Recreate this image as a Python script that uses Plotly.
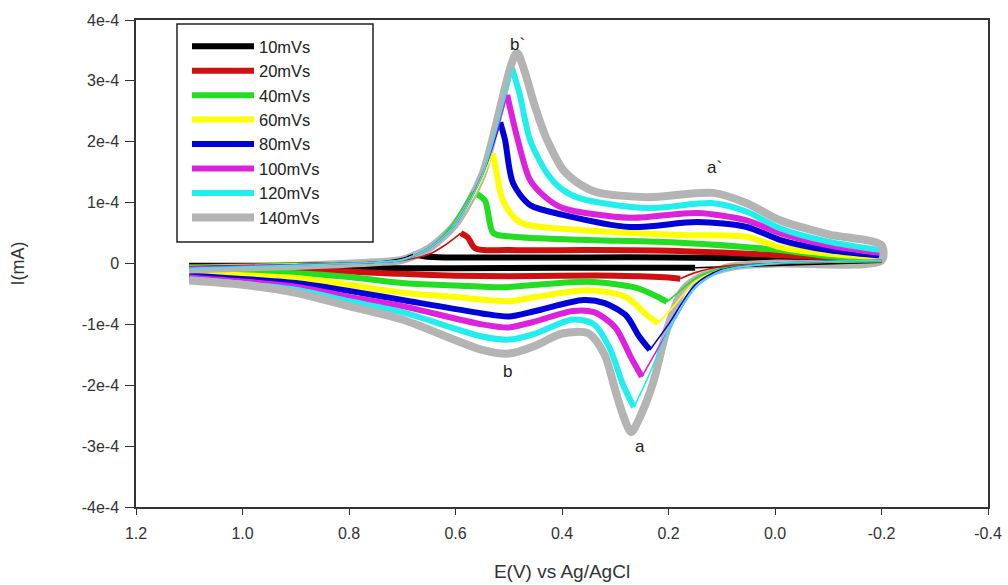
import plotly.graph_objects as go

# ---------------- data (I in units of 1e-4 mA, E in V) ----------------
labels = ["10mVs", "20mVs", "40mVs", "60mVs", "80mVs", "100mVs", "120mVs", "140mVs"]
colors = ["#000000", "#d01010", "#22dd22", "#ffff00", "#0000d8", "#dd22dd", "#22eeee", "#b4b4b4"]

# upper (anodic) branches, from E=1.1 down to E=-0.2
E_up_10 = [1.1, 0.9, 0.75, 0.70, 0.68, 0.66, 0.62, 0.5, 0.35, 0.2, 0.1, 0.0, -0.1, -0.2]
I_up_10 = [0.0, 0.0, 0.02, 0.08, 0.15, 0.12, 0.10, 0.10, 0.10, 0.10, 0.09, 0.09, 0.08, 0.08]
E_up_20 = [1.1, 0.9, 0.75, 0.70, 0.65, 0.62, 0.59, 0.577, 0.563, 0.5, 0.35, 0.2, 0.1, 0.0, -0.1, -0.2]
I_up_20 = [-0.02, 0.0, 0.02, 0.05, 0.15, 0.3, 0.5, 0.43, 0.25, 0.22, 0.22, 0.21, 0.18, 0.14, 0.1, 0.08]
E_up_40 = [1.1, 0.9, 0.75, 0.70, 0.65, 0.61, 0.569, 0.545, 0.529, 0.492, 0.366, 0.178, -0.009, -0.1, -0.2]
I_up_40 = [-0.03, 0.0, 0.02, 0.06, 0.25, 0.6, 1.18, 1.04, 0.5, 0.44, 0.39, 0.34, 0.22, 0.12, 0.08]
E_up_60 = [1.1, 0.9, 0.75, 0.70, 0.65, 0.6, 0.56, 0.53, 0.526, 0.511, 0.479, 0.366, 0.178, 0.053, -0.009, -0.1, -0.2]
I_up_60 = [-0.04, -0.01, 0.02, 0.06, 0.25, 0.65, 1.2, 1.81, 1.65, 1.04, 0.68, 0.55, 0.47, 0.44, 0.27, 0.16, 0.1]
E_up_80 = [1.1, 0.9, 0.75, 0.70, 0.65, 0.6, 0.55, 0.516, 0.507, 0.492, 0.46, 0.398, 0.272, 0.146, 0.053, -0.009, -0.1, -0.2]
I_up_80 = [-0.05, -0.02, 0.02, 0.06, 0.25, 0.65, 1.45, 2.32, 2.03, 1.32, 0.96, 0.8, 0.6, 0.68, 0.6, 0.39, 0.22, 0.13]
E_up_100 = [1.1, 0.9, 0.75, 0.70, 0.65, 0.6, 0.55, 0.503, 0.483, 0.46, 0.43, 0.398, 0.272, 0.146, 0.053, -0.009, -0.1, -0.2]
I_up_100 = [-0.06, -0.02, 0.02, 0.06, 0.25, 0.65, 1.45, 2.77, 2.03, 1.37, 1.08, 0.91, 0.75, 0.83, 0.71, 0.5, 0.3, 0.17]
E_up_120 = [1.1, 0.9, 0.75, 0.70, 0.65, 0.6, 0.55, 0.494, 0.48, 0.46, 0.428, 0.4, 0.366, 0.24, 0.116, 0.053, -0.009, -0.1, -0.2]
I_up_120 = [-0.08, -0.03, 0.02, 0.06, 0.25, 0.65, 1.45, 3.21, 2.8, 2.03, 1.48, 1.22, 1.07, 0.91, 0.99, 0.85, 0.58, 0.36, 0.22]
E_up_140 = [1.1, 0.9, 0.75, 0.70, 0.65, 0.6, 0.55, 0.485, 0.47, 0.455, 0.44, 0.428, 0.398, 0.366, 0.334, 0.24, 0.116, 0.053, -0.009, -0.1, -0.2]
I_up_140 = [-0.1, -0.04, 0.02, 0.06, 0.25, 0.65, 1.45, 3.46, 3.15, 2.7, 2.3, 2.03, 1.54, 1.3, 1.17, 1.09, 1.16, 0.99, 0.71, 0.48, 0.3]

# lower (cathodic) branches, from E=-0.2 up to E=1.1
E_dn_10 = [-0.2, 0.0, 0.15, 0.2, 0.4, 0.6, 0.8, 1.0, 1.1]
I_dn_10 = [0.02, -0.03, -0.07, -0.07, -0.07, -0.08, -0.07, -0.05, -0.05]
E_dn_20 = [-0.2, 0.0, 0.1, 0.15, 0.178, 0.2, 0.3, 0.4, 0.5, 0.6, 0.7, 0.9, 1.1]
I_dn_20 = [0.03, 0.0, -0.05, -0.15, -0.25, -0.23, -0.2, -0.2, -0.21, -0.2, -0.17, -0.1, -0.08]
E_dn_40 = [-0.2, 0.0, 0.1, 0.15, 0.185, 0.203, 0.22, 0.26, 0.35, 0.45, 0.51, 0.6, 0.7, 0.8, 0.9, 1.1]
I_dn_40 = [0.03, 0.0, -0.08, -0.25, -0.5, -0.63, -0.55, -0.4, -0.3, -0.35, -0.39, -0.36, -0.32, -0.22, -0.16, -0.12]
E_dn_60 = [-0.2, 0.0, 0.1, 0.15, 0.19, 0.22, 0.24, 0.28, 0.35, 0.45, 0.5, 0.6, 0.7, 0.8, 0.9, 1.1]
I_dn_60 = [0.04, 0.0, -0.1, -0.3, -0.7, -0.98, -0.85, -0.55, -0.44, -0.55, -0.62, -0.55, -0.48, -0.35, -0.24, -0.16]
E_dn_80 = [-0.2, 0.0, 0.1, 0.15, 0.2, 0.235, 0.255, 0.28, 0.32, 0.36, 0.45, 0.5, 0.55, 0.7, 0.8, 0.9, 1.1]
I_dn_80 = [0.05, 0.0, -0.1, -0.35, -1.0, -1.42, -1.2, -0.85, -0.65, -0.6, -0.78, -0.87, -0.82, -0.6, -0.45, -0.32, -0.2]
E_dn_100 = [-0.2, 0.0, 0.1, 0.15, 0.2, 0.25, 0.27, 0.3, 0.34, 0.38, 0.45, 0.5, 0.55, 0.7, 0.8, 0.9, 1.1]
I_dn_100 = [0.05, 0.0, -0.12, -0.4, -1.1, -1.86, -1.55, -1.05, -0.8, -0.78, -0.95, -1.05, -1.0, -0.7, -0.55, -0.38, -0.23]
E_dn_120 = [-0.2, 0.0, 0.1, 0.15, 0.2, 0.24, 0.265, 0.285, 0.31, 0.34, 0.38, 0.45, 0.5, 0.55, 0.7, 0.8, 0.9, 1.1]
I_dn_120 = [0.05, 0.0, -0.12, -0.4, -1.1, -1.9, -2.36, -2.0, -1.4, -1.0, -0.92, -1.15, -1.25, -1.2, -0.8, -0.62, -0.43, -0.26]
E_dn_140 = [-0.2, 0.0, 0.08, 0.14, 0.173, 0.203, 0.229, 0.255, 0.27, 0.285, 0.3, 0.32, 0.35, 0.4, 0.45, 0.5, 0.55, 0.7, 0.8, 0.9, 1.0, 1.1]
I_dn_140 = [0.05, 0.0, -0.05, -0.22, -0.44, -1.09, -1.96, -2.55, -2.77, -2.5, -2.08, -1.5, -1.15, -1.15, -1.35, -1.48, -1.42, -0.92, -0.7, -0.48, -0.35, -0.28]

E_up = [E_up_10, E_up_20, E_up_40, E_up_60, E_up_80, E_up_100, E_up_120, E_up_140]
I_up = [I_up_10, I_up_20, I_up_40, I_up_60, I_up_80, I_up_100, I_up_120, I_up_140]
E_dn = [E_dn_10, E_dn_20, E_dn_40, E_dn_60, E_dn_80, E_dn_100, E_dn_120, E_dn_140]
I_dn = [I_dn_10, I_dn_20, I_dn_40, I_dn_60, I_dn_80, I_dn_100, I_dn_120, I_dn_140]

x_ticks = [1.2, 1.0, 0.8, 0.6, 0.4, 0.2, 0.0, -0.2, -0.4]
x_ticktext = ["1.2", "1.0", "0.8", "0.6", "0.4", "0.2", "0.0", "-0.2", "-0.4"]
y_ticks = [4e-4, 3e-4, 2e-4, 1e-4, 0, -1e-4, -2e-4, -3e-4, -4e-4]
y_ticktext = ["4e-4", "3e-4", "2e-4", "1e-4", "0", "-1e-4", "-2e-4", "-3e-4", "-4e-4"]

peak_labels = ["b`", "a`", "b", "a"]
peak_label_E = [0.483, 0.113, 0.503, 0.254]
peak_label_I = [3.59e-4, 1.57e-4, -1.78e-4, -3.01e-4]

SCALE = 1e-4
FONT = "Liberation Sans, Arial, sans-serif"
THICK, THICK_GRAY, THIN = 6, 8, 1.6

fig = go.Figure()
thin_parts = []
for k in range(len(labels)):
    eu, iu = E_up[k], [v * SCALE for v in I_up[k]]
    ed, idn = E_dn[k], [v * SCALE for v in I_dn[k]]
    if k == len(labels) - 1:
        # outermost (140 mV/s) loop: one continuous thick line
        fig.add_trace(go.Scatter(
            x=eu + ed, y=iu + idn, mode="lines", name=labels[k], legendgroup=labels[k],
            line=dict(color=colors[k], width=THICK_GRAY, shape="spline", smoothing=0.8)))
        continue
    p_up = max(range(len(iu)), key=lambda j: iu[j])            # anodic peak index
    cand = [j for j in range(len(ed)) if ed[j] < 0.35]
    p_dn = min(cand, key=lambda j: idn[j])                     # cathodic peak (a) index
    fig.add_trace(go.Scatter(
        x=eu[p_up:], y=iu[p_up:], mode="lines", name=labels[k], legendgroup=labels[k],
        line=dict(color=colors[k], width=THICK, shape="spline", smoothing=0.8)))
    fig.add_trace(go.Scatter(
        x=ed[p_dn:], y=idn[p_dn:], mode="lines", name=labels[k], legendgroup=labels[k],
        showlegend=False, hoverinfo="skip",
        line=dict(color=colors[k], width=THICK, shape="spline", smoothing=0.8)))
    thin_parts.append((k, ed[:p_dn + 1], idn[:p_dn + 1]))
    thin_parts.append((k, eu[:p_up + 1], iu[:p_up + 1]))

for k, xs, ys in thin_parts:
    fig.add_trace(go.Scatter(
        x=xs, y=ys, mode="lines", name=labels[k], legendgroup=labels[k],
        showlegend=False, hoverinfo="skip",
        line=dict(color=colors[k], width=THIN, shape="spline", smoothing=0.8)))

for t, ex, iy in zip(peak_labels, peak_label_E, peak_label_I):
    fig.add_annotation(x=ex, y=iy, text=t, showarrow=False,
                       font=dict(family=FONT, size=17, color="#222"))

axis_common = dict(showline=True, linecolor="#333", linewidth=1.5, mirror=True,
                   showgrid=False, zeroline=False, ticks="outside", tickcolor="#333",
                   automargin=False,
                   tickfont=dict(family=FONT, size=16, color="#333"))

fig.update_xaxes(range=[1.2, -0.4], tickvals=x_ticks, ticktext=x_ticktext, ticklen=6,
                 ticklabelstandoff=5,
                 title=dict(text="E(V) vs Ag/AgCl", font=dict(family=FONT, size=19, color="#333"), standoff=24),
                 **axis_common)
fig.update_yaxes(range=[-4e-4, 4e-4], tickvals=y_ticks, ticktext=y_ticktext, ticklen=9,
                 ticklabelstandoff=3,
                 title=dict(text="I(mA)", font=dict(family=FONT, size=18, color="#333"), standoff=52),
                 **axis_common)

# legend frame (plotly's own legend box cannot be widened in vertical mode)
fig.add_shape(type="rect", xref="paper", yref="paper",
              x0=(177 - 136) / 852, x1=(373 - 136) / 852,
              y0=1 - (242 - 20) / 487, y1=1 - (24 - 20) / 487,
              line=dict(color="#222", width=1.5), fillcolor="white", layer="above")

fig.update_layout(
    width=1008, height=585,
    margin=dict(l=136, r=20, t=20, b=78, autoexpand=False),
    paper_bgcolor="white", plot_bgcolor="white",
    showlegend=True,
    legend=dict(x=(187 - 136) / 852, y=1 - (29 - 20) / 487, xanchor="left", yanchor="top",
                bgcolor="rgba(0,0,0,0)", borderwidth=0,
                font=dict(family=FONT, size=16.5, color="#222"),
                itemwidth=62, tracegroupgap=0),
)

fig.write_html("out.html", config={"displayModeBar": False},
               post_script="document.body.style.margin='0';document.body.style.padding='0';")
